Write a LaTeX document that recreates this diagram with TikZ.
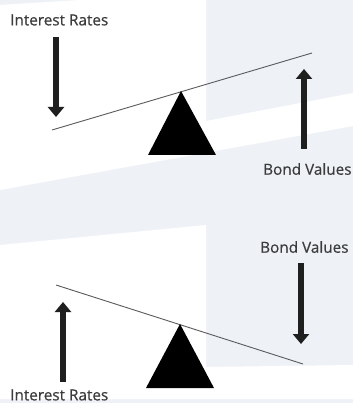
\documentclass[tikz,border=0pt]{standalone}
\usepackage{fontspec}
\setmainfont{Open Sans}
\newfontfamily\labelfont{Open Sans}[FakeBold=0.5]
\usetikzlibrary{arrows.meta}
\usetikzlibrary{positioning}
\definecolor{paleBlue}{RGB}{238,242,247}
\definecolor{textGray}{RGB}{60,60,60}
\definecolor{beamGray}{RGB}{90,90,90}

\begin{document}
\begin{tikzpicture}[x=1pt,y=-1pt,
  label/.style={text=textGray, inner sep=0pt, font=\labelfont\fontsize{15.3}{17}\selectfont},
  move/.style={line width=6.5pt, -{Triangle[width=16pt,length=10pt]}, black!88},
  beam/.style={beamGray, line width=0.9pt}]
\useasboundingbox (0,0) rectangle (353,403);
\fill [paleBlue] (0,0) rectangle (353,403);
\fill [white] (80,0) -- (206,0) -- (206,121) -- (353,93) -- (353,126) -- (0,190) -- (0,5) -- cycle;
\fill [white] (0,245) -- (206,225) -- (206,367) -- (353,365) -- (353,399) -- (0,399) -- cycle;

% rates fall, values rise
\node [label, anchor=west] (rateTop) at (10,20) {Interest Rates};
\node [label, anchor=west] (bondTop) at (263,169) {Bond Values};
\coordinate (rateTopA) at (56,37);
\coordinate (rateTopB) at (56,117);
\coordinate (bondTopA) at (304,149);
\coordinate (bondTopB) at (304,69);
\coordinate (beamTopL) at (52,130);
\coordinate (beamTopR) at (312,53);
\coordinate (pivotTop) at (181,91);
\draw [move] (rateTopA) -- (rateTopB);
\draw [move] (bondTopA) -- (bondTopB);
\draw [beam] (beamTopL) -- (beamTopR);
\fill [black] (pivotTop) -- (216,155) -- (148,155) -- cycle;

% rates rise, values fall
\node [label, anchor=west] (bondBot) at (260,247) {Bond Values};
\node [label, anchor=west] (rateBot) at (10,395) {Interest Rates};
\coordinate (rateBotA) at (63,382);
\coordinate (rateBotB) at (63,302);
\coordinate (bondBotA) at (301,263);
\coordinate (bondBotB) at (301,344);
\coordinate (beamBotL) at (56,285);
\coordinate (beamBotR) at (303,364);
\coordinate (pivotBot) at (180,324);
\draw [move] (rateBotA) -- (rateBotB);
\draw [move] (bondBotA) -- (bondBotB);
\draw [beam] (beamBotL) -- (beamBotR);
\fill [black] (pivotBot) -- (214,388) -- (146,388) -- cycle;
\end{tikzpicture}
\end{document}
